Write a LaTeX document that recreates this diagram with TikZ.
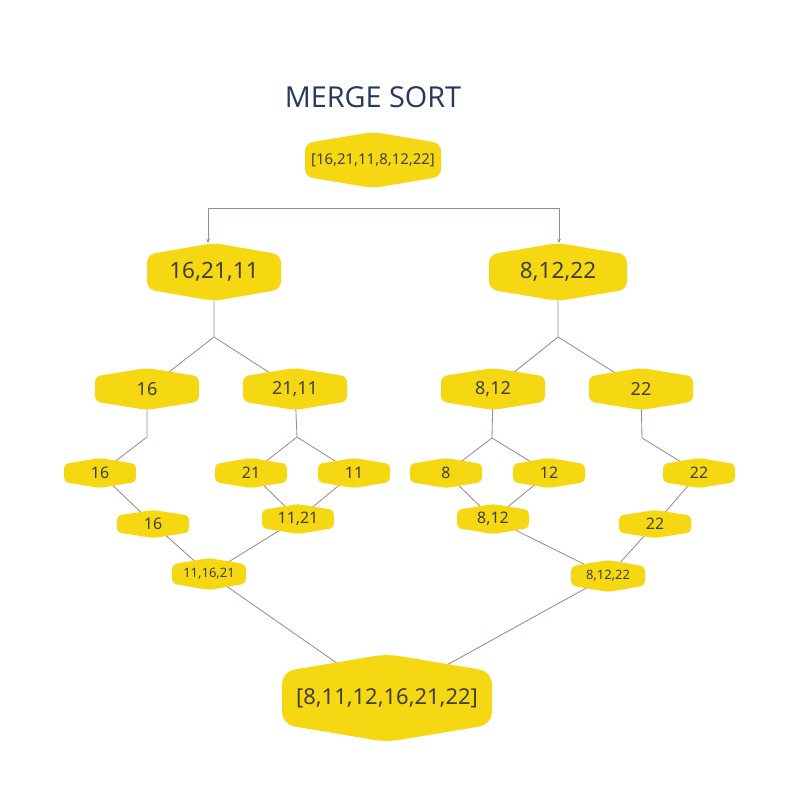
\documentclass[tikz,border=0pt]{standalone}
\usepackage{fontspec}
\setmainfont{Noto Sans}
\newfontfamily\titlefont{Open Sans}
\usetikzlibrary{arrows.meta}
\pgfdeclarelayer{bg}
\pgfsetlayers{bg,main}
\definecolor{hexyellow}{HTML}{F5D811}
\definecolor{linebrown}{HTML}{A08A85}
\definecolor{txtgray}{HTML}{3F3F3F}
\definecolor{titleblue}{HTML}{27385A}
\tikzset{
  hexfill/.style={fill=hexyellow},
  lbl/.style={text=txtgray, inner sep=0pt},
  conn/.style={draw=linebrown, line width=0.6pt},
  arr/.style={conn, -{Stealth[length=3pt,width=2.6pt]}},
}
% #1 name, #2 x, #3 y, #4 half width, #5 half height, #6 font pt, #7 text
\newcommand\hexnode[7]{%
  \pgfmathsetmacro\myrc{#5*0.2}%
  \fill[hexfill, rounded corners=\myrc pt]
    ({#2-#4},{#3-0.6*#5}) -- (#2,{#3-#5}) -- ({#2+#4},{#3-0.6*#5}) --
    ({#2+#4},{#3+0.6*#5}) -- (#2,{#3+#5}) -- ({#2-#4},{#3+0.6*#5}) -- cycle;
  \node[lbl, font=\fontsize{#6}{#6}\selectfont] (#1) at (#2,#3) {#7};
}
\begin{document}
\begin{tikzpicture}[x=0.025cm, y=-0.025cm]
\useasboundingbox (0,0) rectangle (800,800);
\node[text=titleblue, font=\titlefont\fontsize{20.5}{20.5}\selectfont] (title) at (373,97) {MERGE SORT};
% nodes
\hexnode{top}{373}{160}{68}{28}{10.6}{[16,21,11,8,12,22]}
\hexnode{A}{214}{272}{67}{29}{16}{16,21,11}
\hexnode{B}{558}{272}{69}{29}{16}{8,12,22}
\hexnode{C}{147}{389}{52}{21}{12.8}{16}
\hexnode{D}{295}{389}{52}{21}{12.8}{21,11}
\hexnode{E}{493}{389}{52}{21}{12.8}{8,12}
\hexnode{F}{641}{389}{52}{21}{12.8}{22}
\hexnode{G}{100}{473}{36}{15}{11.3}{16}
\hexnode{H}{251}{473}{36}{15}{11.3}{21}
\hexnode{I}{354}{473}{36}{15}{11.3}{11}
\hexnode{J}{446}{473}{36}{15}{11.3}{8}
\hexnode{K}{549}{473}{36}{15}{11.3}{12}
\hexnode{L}{699}{473}{36}{15}{11.3}{22}
\hexnode{M}{153}{524}{36}{14}{11.3}{16}
\hexnode{N}{298}{519}{36}{15}{11.3}{11,21}
\hexnode{O}{493}{519}{36}{15}{11.3}{8,12}
\hexnode{P}{655}{524}{36}{14}{11.3}{22}
\hexnode{Q}{209}{574}{37}{16}{9.2}{11,16,21}
\hexnode{R}{608}{576}{37}{16}{9.2}{8,12,22}
\hexnode{S}{387}{698}{105}{44}{15.6}{[8,11,12,16,21,22]}
% connectors
\coordinate (h1) at (208,208);
\coordinate (h2) at (559,208);
\coordinate (t1) at (208,243);
\coordinate (t2) at (559,243);
\coordinate (a1) at (214,337);
\coordinate (b1) at (558,337);
\coordinate (c1) at (147,437);
\coordinate (d1) at (297,437);
\coordinate (e1) at (492,438);
\coordinate (f1) at (642,438);
\begin{pgfonlayer}{bg}
\draw[conn] (h1) -- (h2);
\draw[arr] (h1) -- (t1);
\draw[arr] (h2) -- (t2);
\draw[conn] (A.center) -- (a1) -- (C.center);
\draw[conn] (a1) -- (D.center);
\draw[conn] (B.center) -- (b1) -- (E.center);
\draw[conn] (b1) -- (F.center);
\draw[conn] (C.center) -- (c1) -- (G.center);
\draw[conn] (D.center) -- (d1) -- (H.center);
\draw[conn] (d1) -- (I.center);
\draw[conn] (E.center) -- (e1) -- (J.center);
\draw[conn] (e1) -- (K.center);
\draw[conn] (F.center) -- (f1) -- (L.center);
\draw[conn] (G.center) -- (M.center);
\draw[conn] (H.center) -- (N.center);
\draw[conn] (I.center) -- (N.center);
\draw[conn] (J.center) -- (O.center);
\draw[conn] (K.center) -- (O.center);
\draw[conn] (L.center) -- (P.center);
\draw[conn] (M.center) -- (Q.center);
\draw[conn] (N.center) -- (Q.center);
\draw[conn] (O.center) -- (R.center);
\draw[conn] (P.center) -- (R.center);
\draw[conn] (Q.center) -- (S.center);
\draw[conn] (R.center) -- (S.center);
\end{pgfonlayer}
\end{tikzpicture}
\end{document}
